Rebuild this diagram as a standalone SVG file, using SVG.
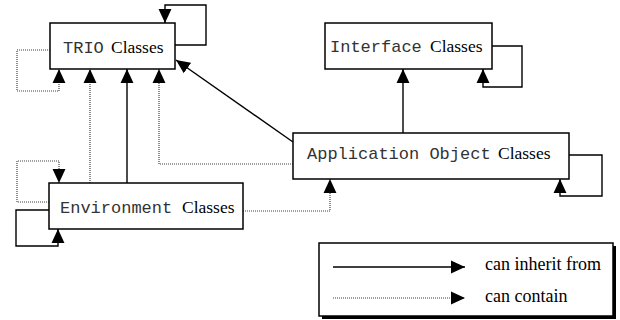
<svg xmlns="http://www.w3.org/2000/svg" width="620" height="320" viewBox="0 0 620 320">
<style>
.box{fill:#fff;stroke:#000;stroke-width:1.5}
.mono{font-family:"Liberation Mono","Courier New",monospace;font-size:17px;fill:#333}
.ser{font-family:"Liberation Serif","Times New Roman",serif;font-size:17.5px;fill:#000}
.leg{font-family:"Liberation Serif","Times New Roman",serif;font-size:18px;fill:#000}
.solid{fill:none;stroke:#000;stroke-width:1.4}
.dot{fill:none;stroke:#444;stroke-width:1.2;stroke-dasharray:1 1}
</style>
<defs>
<marker id="ah" markerUnits="userSpaceOnUse" markerWidth="14" markerHeight="14" viewBox="0 0 13 12" refX="13" refY="6" orient="auto">
<path d="M0,0 L13,6 L0,12 z" fill="#000"/>
</marker>
</defs>
<rect width="620" height="320" fill="#fff"/>
<g id="connectors">
<path class="solid" d="M175,45 H206 V5 H165 V23" marker-end="url(#ah)"/>
<path class="dot" d="M50,50 H17 V91 H59 V69" marker-end="url(#ah)"/>
<path class="dot" d="M90,183 V69" marker-end="url(#ah)"/>
<path class="solid" d="M127,183 V69" marker-end="url(#ah)"/>
<path class="dot" d="M293,164 H159 V69" marker-end="url(#ah)"/>
<path class="solid" d="M293,142 L176,60" marker-end="url(#ah)"/>
<path class="solid" d="M403,133 V69" marker-end="url(#ah)"/>
<path class="solid" d="M492,46 H522 V87 H483 V69" marker-end="url(#ah)"/>
<path class="solid" d="M569,155 H602 V196 H560 V179" marker-end="url(#ah)"/>
<path class="dot" d="M49,202 H17 V161 H59 V183" marker-end="url(#ah)"/>
<path class="solid" d="M49,210 H16 V246 H58 V229" marker-end="url(#ah)"/>
<path class="dot" d="M243,211 H330 V179" marker-end="url(#ah)"/>
</g>
<g id="trio">
<rect class="box" x="50" y="23" width="125" height="46"/>
<text class="mono" x="63" y="53">TRIO</text>
<text class="ser" x="111" y="53">Classes</text>
</g>
<g id="interface">
<rect class="box" x="325" y="23" width="167" height="46"/>
<text class="mono" x="330" y="52">Interface</text>
<text class="ser" x="430" y="52">Classes</text>
</g>
<g id="application">
<rect class="box" x="293" y="133" width="276" height="46"/>
<text class="mono" x="307" y="159">Application Object</text>
<text class="ser" x="498" y="159">Classes</text>
</g>
<g id="environment">
<rect class="box" x="49" y="183" width="194" height="46"/>
<text class="mono" x="60" y="213">Environment</text>
<text class="ser" x="182" y="213">Classes</text>
</g>
<g id="legend">
<rect x="322" y="246" width="294" height="73" fill="#000"/>
<rect class="box" x="319" y="243" width="294" height="73"/>
<path class="solid" d="M333,267 H465" marker-end="url(#ah)"/>
<path class="dot" d="M333,298 H465" marker-end="url(#ah)"/>
<text class="leg" x="485" y="270">can inherit from</text>
<text class="leg" x="485" y="302">can contain</text>
</g>
</svg>
